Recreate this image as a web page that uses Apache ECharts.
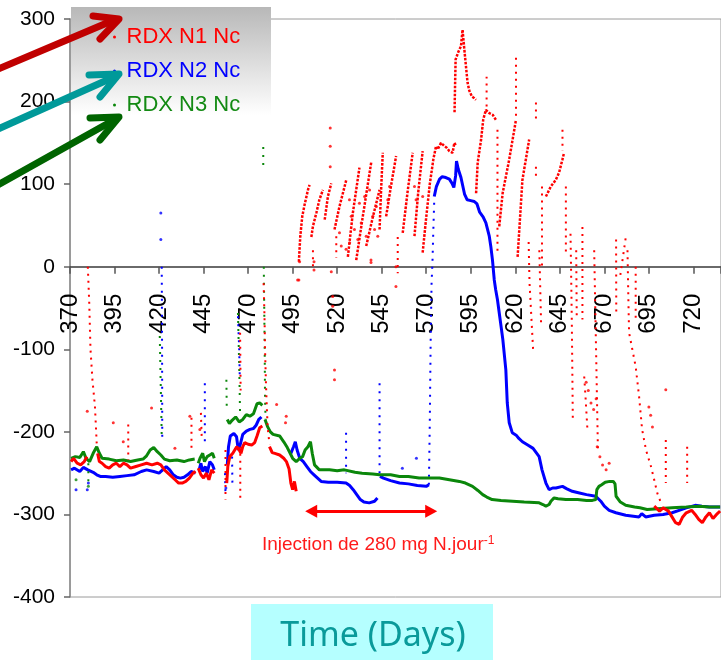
<!DOCTYPE html>
<html>
<head>
<meta charset="utf-8">
<script src="https://cdn.jsdelivr.net/npm/echarts@6/dist/echarts.min.js"></script>
<style>
  html, body { margin: 0; padding: 0; background: #ffffff; }
  #chart { width: 721px; height: 660px; }
</style>
</head>
<body>
<div id="chart"></div>
<script>
// Redox potential of the three RDX columns over time (days)
const seriesNames = ['RDX N1 Nc', 'RDX N2 Nc', 'RDX N3 Nc'];
const seriesColors = ['#ff0000', '#0000ff', '#0b870b'];
const xTickStart = 370, xTickStep = 25, xTickLast = 720;
const yTicks = [-400, -300, -200, -100, 0, 100, 200, 300];

// ---- N1 (red) ----
const n1Trend = [
  [370.6,-236],[372,-232],[374,-238],[376,-240],[378,-236],[379.5,-230],null,
  [385.5,-226],[386.5,-236],[388,-238],[390,-242],[392,-244],[394,-240],[396,-238],[398,-242],[400,-238],[402,-240],[404,-244],[407,-242],[410,-240],[413,-238],[416,-240],[419,-238],[421,-240],[423,-246],[425,-250],[427,-254],[429,-258],[431,-262],[433,-262],[435,-260],[437,-256],[439,-250],[440.5,-248],null,
  [442,-244],[443.5,-252],[445,-256],[446.5,-250],[448,-258],[449.5,-246],[451,-250],null,
  [458,-262],[458.6,-242],[459.7,-230],[461.4,-226],[463.6,-218],[465,-222],[466,-226],[467,-218],[468.1,-213],[470,-215],[472,-216],[473.7,-213],[475,-205],[476.5,-195],[478,-193],null,
  [482,-218],[483.5,-225],[485,-226],[487.7,-228],[490,-232],[491.5,-236],[493,-245],[494,-262],[495,-270],[496,-260],[497,-272],null,
  [698,-290],[701,-296],[703,-292],[706,-296],[708,-303],[710,-310],[712,-312],[714,-303],[716,-298],[719,-295],[721,-300],[723,-306],[725,-310],[727,-303],[729,-298],[731,-305],[733,-300],[735,-296]
];
const n1Ramps = [
  [498.5,6],[499.3,37],[500.4,61],[501.7,75],[503.6,93],[504.5,99],null,
  [505.5,36],[506.4,49],[508.3,65],[510,81],[512,93],null,
  [513,57],[514.8,85],[516.7,101],null,
  [518.5,45],[521.3,73],[525.1,105],null,
  [526,12],[528.8,65],[532.5,120],null,
  [530.7,8],[534.4,61],[539.1,126],null,
  [536.3,25],[540,60],[543.8,93],null,
  [543.8,45],[544.7,95],[545.6,138],null,
  [547.5,61],[550,95],[553.1,134],null,
  [556.8,41],[559.5,90],[562.4,138],null,
  [563.4,37],[565.5,90],[568,140],null,
  [568,17],[570,60],[572,100],[574,130],[575.5,146],[576.4,142],[578.3,150],[580.2,146],[581.5,144],[583,140],[584.8,138],[585.8,150],[586.9,146],null,
  [585.9,187],[586.2,220],[586.5,251],[588,260],[589.5,267],[590.4,287],[591.4,263],[592.3,243],[593.2,223],[594.2,213],[595.7,206],[597,204],[597.9,202],null,
  [598,89],[598.9,126],[600.8,154],[602,178],[603.5,190],[605.4,186],[607.3,184],[609.1,178],null,
  [611,49],[612.9,89],[616.6,130],[620.4,178],null,
  [621.3,12],[624,105],[627.8,154],null,
  [637.2,85],[639.9,97],[642.7,105],[644.6,114],[646.5,130],[647.4,138]
];
const n1Streaks = [
  [380,0],[380.8,-44],[381.5,-100],[382.6,-137],[384,-169],[385,-214],null,
  [402.7,-191],[402.7,-234],null,
  [438.2,-183],[438.2,-222],null,
  [443.5,-177],[444,-210],null,
  [457.3,-222],[457.3,-282],null,
  [465.5,-80],[465.8,-150],null,
  [465.6,-218],[465.6,-282],null,
  [478.7,-20],[479.2,-60],[479.5,-100],[480,-140],[480.5,-170],[481,-195],[482,-215],null,
  [506.4,20],[506.4,-4],null,
  [519.5,37],[519.5,11],null,
  [554,36],[554,-8],null,
  [603.9,194],[603.9,230],null,
  [610,166],[610,17],null,
  [620.4,253],[620.4,182],null,
  [631.6,199],[631.6,175],null,
  [631.6,121],[631.6,105],null,
  [635,97],[635,0],null,
  [646.5,166],[646.5,140],null,
  [648.4,97],[648.4,17],null,
  [627.5,30],[628,-20],[629,-60],[630,-100],null,
  [633.5,20],[634.5,-70],null,
  [651,40],[651.3,0],[651.7,-60],[652,-120],[652.3,-185],null,
  [654.2,20],[654.5,-60],null,
  [657.7,48],[657.7,-64],null,
  [658.7,-133],[659.5,-160],[660.5,-197],null,
  [664.3,20],[665,-60],[665.7,-140],[666.4,-222],null,
  [676.6,33],[676.7,-60],null,
  [679,-10],[682,35],null,
  [683,20],[683.5,-40],[683.9,-80],[687.6,-121],[689.5,-157],[691.2,-197],[693.4,-222],[696.2,-242],[698,-258],[699.7,-274],[701.8,-286],null,
  [687.6,0],[687.6,-64],null,
  [704.5,-210],[704.5,-262],null,
  [716.5,-218],[716.5,-262]
];
const n1Spots = [
  [379.7,-175],[394.3,-189],[399.9,-212],[415.8,-171],[428.9,-220],[437.3,-181],[442.9,-197],
  [486,-167],[491.4,-181],[491,-189],[497.8,-16],[498.9,6],[507,6],[507,-4],[517.5,-36],[517.5,-48],
  [518.5,-125],[518.5,-137],[539,5],[553,-24],[553,0],[498.5,-16],[516.7,-6],
  [516.1,168],[516.1,146],[516.1,121],
  [526.9,81],[527.9,61],[529.7,45],[532.5,77],[533.5,53],[535.4,85],[536.3,37],[538.2,93],[540,61],
  [541,45],[542,73],[542.8,37],[527,29],[531.6,33],[539,8],[521.3,41],[522.3,25],[525,21],
  [549.4,97],[548.4,81],[563.4,97],[564.3,81],[568,85],
  [659.8,-140],[661,-150],[662.5,-165],[664,-173],[665.4,-160],
  [666,-218],[667.5,-230],[669,-240],[671,-246],[672.7,-238],
  [695,-170],[696,-180],[697,-194],[704.5,-149]
];

// ---- N2 (blue) ----
const n2Trend = [
  [370.6,-246],[372.5,-244],[375.5,-248],[377.5,-243],[380,-246],[383,-249],[385,-252],[387,-254],[390,-254],[394,-255],[398,-254],[402,-253],[406,-252],[410,-248],[413,-246],[417,-248],[420,-250],[422,-246],[424,-242],[426,-246],[428,-252],[430,-255],[432,-256],[434,-255],[436,-252],[438,-248],[440.5,-250],null,
  [442.5,-246],[443.5,-238],[444.5,-248],[446,-242],[447,-250],[448.5,-236],[450,-240],[451,-246],null,
  [458.3,-240],[459,-218],[460,-205],[462,-202],[463.5,-206],[464.5,-222],[465.5,-216],[467,-203],[469,-199],[471,-197],[473,-196],[474.5,-192],[476,-185],[477.5,-182],null,
  [494,-226],[495.5,-218],[496.5,-212],[497.5,-222],[499,-232],[501,-236],[503,-242],[505,-248],[507,-252],[509,-256],[511,-260],[515,-261],[520,-261],[525,-262],[527,-265],[529,-270],[531,-276],[533,-282],[535,-285],[538,-286],[541,-284],[542.6,-280],null,
  [544,-254],[546,-256],[550,-259],[555,-262],[560,-263],[565,-265],[570,-266],[571.5,-264],null,
  [574.5,85],[575.7,97],[577.5,106],[579,109],[581,108],[583,106],[584.5,101],[585.5,96],[586.5,110],[587,128],[588,118],[589.5,108],[591.5,88],[593,81],[595,80],[597,79],[598.5,76],[600,66],[602,60],[603.5,53],[605.4,37],[606.3,24],[607.2,8],[608.2,-16],[609,-28],[610,-40],[611,-56],[613,-88],[614.7,-125],[615.5,-165],[616.6,-189],[618.3,-201],[620.5,-204],[622,-208],[624,-212],[627,-216],[630,-220],[633.4,-230],[635,-246],[637.2,-262],[639,-270],[641,-268],[642.8,-268],[646.5,-266],[649,-269],[652,-272],[656,-274],[660,-276],[665.2,-278],[668,-284],[670,-290],[672.7,-295],[676.5,-298],[682,-301],[689.5,-303],[691,-299],[693.2,-303],[698,-301],[703,-300],[708,-298],[712,-295],[716,-292],[721,-289],[724.8,-290],[729,-291],[735,-291]
];
const n2Streaks = [
  [421.5,0],[421.6,-46],[421.7,-100],[421.8,-210],null,
  [445.7,-141],[445.7,-213],null,
  [457,-250],[457.3,-275],null,
  [461,-230],[461.2,-266],null,
  [464.3,-60],[465,-100],[465.3,-133],null,
  [525,-201],[525,-250],null,
  [543.8,-141],[543.8,-254],null,
  [571.5,-264],[572,-189],[572.5,-88],[573,-20],[573.5,5],[574,45],[574.5,80]
];
const n2Spots = [
  [421,65],[421,33],[373.4,-270],[379.7,-270],[380.3,-262],[556.6,-244],[564.5,-232],[457.5,-268]
];

// ---- N3 (green) ----
const n3Trend = [
  [370.6,-232],[373,-230],[375.5,-231],[377.5,-224],[379,-232],[381,-236],[383,-226],[385,-218],[386.5,-226],[388,-232],[392,-233],[396,-235],[400,-234],[404,-236],[408,-234],[411,-233],[413,-229],[415,-222],[417,-219],[419,-224],[421,-228],[423,-233],[426,-235],[430,-234],[434,-236],[437,-234],[440,-233],null,
  [442,-238],[443,-232],[444.5,-226],[445.5,-236],[447,-230],[448.5,-228],[450,-226],[451,-232],null,
  [458.3,-185],[459.5,-190],[461,-186],[463,-182],[465,-188],[467,-185],[469,-179],[471,-181],[473,-178],[475,-166],[476.5,-165],[478,-168],null,
  [479.5,-185],[481,-194],[482.5,-200],[484,-203],[487.7,-205],[490,-212],[492,-219],[495,-232],[497,-236],[499,-232],[500.6,-230],[502,-222],[503.6,-218],[505,-212],[506,-226],[507.3,-240],[510,-246],[515.7,-246],[520,-247],[524,-246],[530,-249],[534,-250],[540,-251],[543.8,-252],[550,-252],[555,-254],[560,-254],[566,-256],[572,-256],[577.4,-256],[583,-258],[588.6,-260],[592,-262],[596,-266],[599,-271],[601.7,-276],[604,-279],[607,-282],[612,-283],[618.5,-284],[625,-285],[633.4,-286],[635.5,-288],[637.2,-290],[639,-288],[640,-284],[641.8,-280],[644,-281],[648.4,-282],[655,-282],[660,-283],[663.3,-283],[665.2,-282],[665.8,-270],[667,-266],[668.5,-264],[670.5,-261],[673,-260],[675,-260],[676,-263],[676.6,-278],[679,-285],[682,-289],[687,-291],[690,-292],[694,-294],[700,-293],[708,-292],[716,-291],[723,-290],[729,-291],[735,-291]
];
const n3Streaks = [
  [420.4,-84],[421,-150],[421.5,-206],null,
  [457.8,-137],[458,-170],null,
  [464.3,-56],[465,-120],[465.5,-180],null,
  [478.5,145],[478.5,118],null,
  [478.8,0],[479,-40],[479.3,-100],[479.5,-160],[479.8,-185],null,
  [380.3,-238],[380.3,-262]
];
const n3Spots = [[373.4,-258],[380.3,-266]];

const sans = "'Liberation Sans', Arial, sans-serif";

function trendSeries(idx, data, z) {
  return {
    type: 'line', name: seriesNames[idx], data: data, showSymbol: false, silent: true,
    connectNulls: false, z: z,
    itemStyle: { color: seriesColors[idx] },
    lineStyle: { color: seriesColors[idx], width: 3 }
  };
}
function dottedSeries(idx, data, dash, width, z) {
  return {
    type: 'line', name: seriesNames[idx], data: data, showSymbol: false, silent: true,
    connectNulls: false, z: z,
    itemStyle: { color: seriesColors[idx] },
    lineStyle: { color: seriesColors[idx], width: width, type: dash }
  };
}
function spotSeries(idx, data, z) {
  return {
    type: 'scatter', name: seriesNames[idx], data: data, symbolSize: 3, silent: true, z: z,
    itemStyle: { color: seriesColors[idx] }
  };
}

const injection = trendSeries(0, n1Trend, 4);
injection.markLine = {
  silent: true,
  symbol: ['triangle', 'triangle'],
  symbolSize: [13, 12],
  lineStyle: { color: '#ff0000', width: 3, type: 'solid' },
  label: {
    show: true,
    position: 'insideMiddleBottom',
    distance: 24,
    offset: [7, 0],
    formatter: '{t|Injection de 280 mg N.jour}{s|-1}',
    rich: {
      t: { fontSize: 19, color: '#ff1a1a', fontFamily: sans },
      s: { fontSize: 12, color: '#ff1a1a', fontFamily: sans, verticalAlign: 'top' }
    }
  },
  data: [[{ coord: [505.4, -296] }, { coord: [572.8, -296] }]]
};

// plot box
const gridTop = 19, gridBottom = 63, chartH = 660;
const plotH = chartH - gridTop - gridBottom;
const yMin = yTicks[0], yMax = yTicks[yTicks.length - 1];
// the day axis runs along the zero line
const xAxisOffset = -plotH * (0 - yMin) / (yMax - yMin);

const chart = echarts.init(document.getElementById('chart'), null, { renderer: 'canvas' });
chart.setOption({
  animation: false,
  backgroundColor: '#ffffff',
  grid: { left: 70, right: -1, top: gridTop, bottom: gridBottom, show: true, borderColor: '#9a9a9a', borderWidth: 1 },
  xAxis: {
    type: 'value', min: xTickStart, max: 735.5, interval: xTickStep,
    position: 'bottom', offset: xAxisOffset,
    axisLine: { onZero: false, lineStyle: { color: '#3a3a3a', width: 1.5 } },
    axisTick: { show: true, length: 7, lineStyle: { color: '#555', width: 1.5 } },
    splitLine: { show: false },
    axisLabel: {
      rotate: 90, margin: 27, color: '#000', fontSize: 24, fontFamily: sans,
      formatter: function (v) {
        return ((v - xTickStart) % xTickStep === 0 && v <= xTickLast) ? String(v) : '';
      }
    }
  },
  yAxis: {
    type: 'value', min: yMin, max: yMax, interval: 100,
    axisLine: { show: true, lineStyle: { color: '#8a8a8a', width: 1.5 } },
    axisTick: { show: true, length: 6, lineStyle: { color: '#666', width: 1.5 } },
    splitLine: { show: false },
    axisLabel: { margin: 15, color: '#000', fontSize: 21, fontFamily: sans }
  },
  legend: {
    orient: 'vertical', left: 108, top: 21, itemGap: 12, itemWidth: 14, itemHeight: 3,
    icon: 'circle', selectedMode: false, z: 6,
    textStyle: { fontSize: 22, fontFamily: sans },
    data: [
      { name: seriesNames[0], textStyle: { color: seriesColors[0] } },
      { name: seriesNames[1], textStyle: { color: seriesColors[1] } },
      { name: seriesNames[2], textStyle: { color: '#138a13' } }
    ]
  },
  graphic: [
    {
      type: 'rect', left: 71, top: 7, z: 1, silent: true,
      shape: { width: 200, height: 108 },
      style: { fill: { type: 'linear', x: 0, y: 0, x2: 0, y2: 1,
        colorStops: [{ offset: 0, color: '#b8b8b8' }, { offset: 1, color: '#ffffff' }] } }
    },
    { type: 'polyline', z: 10, silent: true, shape: { points: [[-4, 70], [114, 20]] },
      style: { stroke: '#c00000', lineWidth: 7, fill: null, lineCap: 'round' } },
    { type: 'polyline', z: 10, silent: true, shape: { points: [[93, 16], [119, 19], [100, 39]] },
      style: { stroke: '#c00000', lineWidth: 7, fill: null, lineCap: 'round', lineJoin: 'round' } },
    { type: 'polyline', z: 10, silent: true, shape: { points: [[-4, 130], [114, 77]] },
      style: { stroke: '#009999', lineWidth: 7, fill: null, lineCap: 'round' } },
    { type: 'polyline', z: 10, silent: true, shape: { points: [[89, 75], [119, 74], [100, 97]] },
      style: { stroke: '#009999', lineWidth: 7, fill: null, lineCap: 'round', lineJoin: 'round' } },
    { type: 'polyline', z: 10, silent: true, shape: { points: [[-4, 186], [114, 120]] },
      style: { stroke: '#006400', lineWidth: 7, fill: null, lineCap: 'round' } },
    { type: 'polyline', z: 10, silent: true, shape: { points: [[90, 118], [119, 117], [100, 140]] },
      style: { stroke: '#006400', lineWidth: 7, fill: null, lineCap: 'round', lineJoin: 'round' } },
    {
      type: 'rect', left: 251, top: 604, z: 1, silent: true,
      shape: { width: 242, height: 60 },
      style: { fill: '#b5ffff' }
    },
    {
      type: 'text', z: 2, silent: true, x: 373, y: 636,
      style: { text: 'Time (Days)', fill: '#0a9a9a', font: "34px 'Noto Sans', sans-serif",
        textAlign: 'center', textVerticalAlign: 'middle' }
    }
  ],
  series: [
    trendSeries(1, n2Trend, 2),
    dottedSeries(1, n2Streaks, [2, 6], 2, 2),
    spotSeries(1, n2Spots, 2),
    trendSeries(2, n3Trend, 3),
    dottedSeries(2, n3Streaks, [2, 6], 2, 3),
    spotSeries(2, n3Spots, 3),
    injection,
    dottedSeries(0, n1Ramps, [2.6, 1.4], 2.5, 4),
    dottedSeries(0, n1Streaks, [2, 5], 2, 4),
    spotSeries(0, n1Spots, 4)
  ]
});
</script>
</body>
</html>
